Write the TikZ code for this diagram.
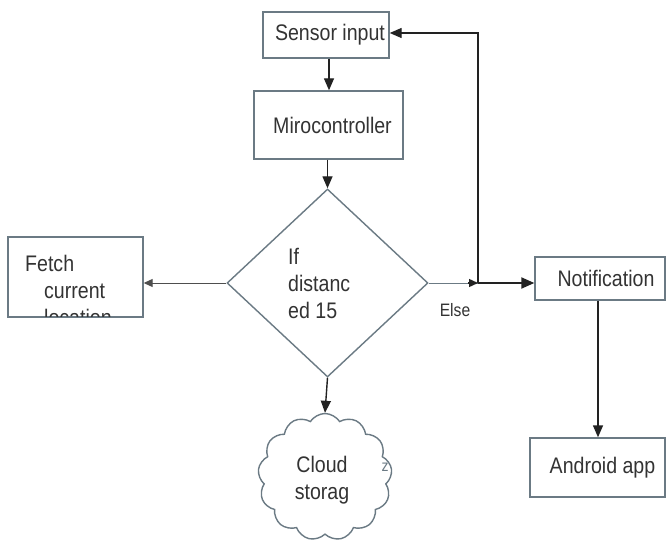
\documentclass[tikz,border=0pt]{standalone}
\usepackage{fontspec}
\setmainfont{Liberation Sans}[FakeStretch=0.87]
\usetikzlibrary{arrows.meta,shapes.geometric,shapes.symbols,calc}
\definecolor{boxc}{HTML}{6B7A84}
\definecolor{txtc}{HTML}{333333}
\definecolor{linec}{HTML}{222222}
\tikzset{
  box/.style={draw=boxc,line width=1.4pt,fill=white,inner sep=0pt,text=txtc,
    font=\fontsize{22.5}{27}\selectfont},
  lbl/.style={text=txtc,inner sep=0pt,font=\fontsize{22.5}{27}\selectfont},
  conn/.style={draw=linec,line width=1.4pt,-{Triangle[length=12pt,width=10pt]}},
  smallconn/.style={draw=linec!80,line width=1pt,-{Triangle[length=9pt,width=8pt]}},
  thinconn/.style={draw=boxc,line width=1pt},
}
\begin{document}
\begin{tikzpicture}[x=1pt,y=-1pt]
\useasboundingbox[fill=white] (0,0) rectangle (668,545);
% boxes
\node[box,minimum width=126pt,minimum height=46pt] (sensor) at (326,35) {\hspace{8pt}Sensor input};
\node[box,minimum width=149pt,minimum height=68pt] (miro) at (328.5,125) {\hspace{8pt}Mirocontroller};
\node[draw=boxc,line width=1.4pt,diamond,aspect=1.07,minimum width=201pt,minimum height=188pt,inner sep=0pt] (dia) at (327.5,283) {};
\node[lbl,align=left,anchor=west] (diatext) at (288,283) {If\\distanc\\ed 15};
\node[box,minimum width=135pt,minimum height=80pt] (fetch) at (75.5,277) {};
\begin{scope}
  \clip (fetch.south west) rectangle (fetch.north east);
  \node[lbl,align=left,anchor=west] (fetchtext) at (25,290) {Fetch\\\hspace{19pt}current\\\hspace{19pt}location};
\end{scope}
\draw[draw=boxc,line width=1.4pt] (fetch.south west) rectangle (fetch.north east);
\node[box,minimum width=130pt,minimum height=43pt] (notif) at (600,278.5) {\hspace{12pt}Notification};
\node[box,minimum width=135pt,minimum height=59pt] (android) at (597.5,467.5) {\hspace{10pt}Android app};
\node[draw=boxc,line width=1.4pt,cloud,cloud puffs=13,cloud puff arc=115,aspect=1.07,minimum width=134pt,minimum height=127pt,inner sep=0pt] (cloud) at (325,477) {};
\node[lbl,align=center] (cloudtext) at (322,480) {Cloud\\storag};
\node[text=boxc,inner sep=0pt,font=\fontsize{16}{18}\selectfont] (zfrag) at (385,467) {z};
\node[lbl,font=\fontsize{18}{20}\selectfont] (else) at (455,310) {Else};
% connectors
\coordinate (junc) at (478,283);
\draw[conn] (sensor.south -| 329,0) -- (329,0 |- miro.north);
\draw[conn] (miro.south -| dia.north) -- (dia.north);
\draw[smallconn] (dia.west) -- (dia.west -| fetch.east);
\draw[thinconn] (dia.east) -- (junc);
\draw[draw=linec,line width=1.4pt,-{Triangle[length=9pt,width=8pt]}] ($(junc)+(-10,0)$) -- (junc);
\draw[draw=linec,line width=2pt,-{Triangle[length=13pt,width=11pt]}] (junc) -- (junc -| notif.west);
\draw[conn] (junc) -- (478,33) -- (sensor.east |- 0,33);
\draw[conn] (dia.south) -- (cloud.north);
\draw[conn] (notif.south -| 598,0) -- (598,0 |- android.north);
\end{tikzpicture}
\end{document}
